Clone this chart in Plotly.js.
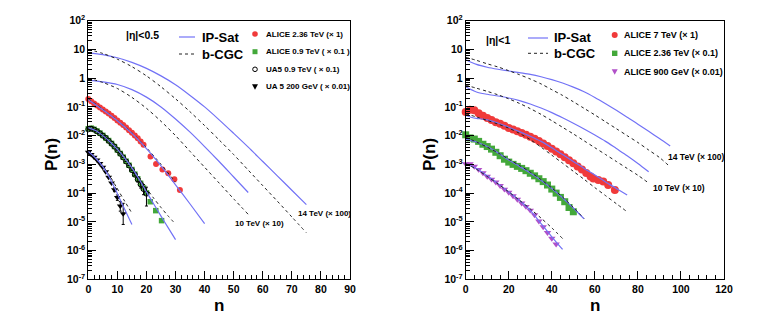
<!DOCTYPE html>
<html>
<head>
<meta charset="utf-8">
<script src="https://cdn.plot.ly/plotly-3.0.1.min.js"></script>
<style>html,body{margin:0;padding:0;background:#fff;}#chart{width:763px;height:319px;}</style>
</head>
<body>
<div id="chart"></div>
<script>
// ---------------- LEFT PANEL (|eta|<0.5) ----------------
// ALICE 2.36 TeV (x1)
const aliceL236_n = [0,1,2,3,4,5,6,7,8,9,10,11,12,13,14,15,16,17,18,19,21.4,23.3,25.5,27.5,29.6,31.5];
const aliceL236_P = [0.19,0.158,0.132,0.112,0.0955,0.0813,0.0692,0.0589,0.049,0.0407,0.0339,0.0282,0.0234,0.0191,0.0155,0.0126,0.0102,8.13e-3,6.31e-3,4.79e-3,1.86e-3,1.02e-3,6.61e-4,4.9e-4,3.02e-4,1.29e-4];
// ALICE 0.9 TeV (x0.1)
const aliceL09_n = [0,1,2,3,4,5,6,7,8,9,10,11,12,13,14,15,16,17,18,19,20,21.3,23.2,25.2];
const aliceL09_P = [0.0174,0.0182,0.0166,0.0145,0.0123,0.0102,8.32e-3,6.76e-3,5.37e-3,4.17e-3,3.16e-3,2.40e-3,1.78e-3,1.29e-3,9.33e-4,6.61e-4,4.57e-4,3.16e-4,2.19e-4,1.51e-4,1.02e-4,5.01e-5,2.45e-5,1.10e-5];
// UA5 0.9 TeV (x0.1)
const ua5L09_n = [0,1,2,3,4,5,6,7,8,9,10,11,12,13,14,15,16,17,18,19,20];
const ua5L09_P = [0.0166,0.0174,0.0162,0.0141,0.0120,0.0100,8.32e-3,6.61e-3,5.25e-3,4.17e-3,3.16e-3,2.34e-3,1.74e-3,1.26e-3,9.12e-4,6.31e-4,4.37e-4,3.02e-4,2.0e-4,1.38e-4,9.55e-5];
const ua5L09_errUp = [0,0,0,0,0,0,0,0,0,0,0,0,0,0,0,0,4e-5,6e-5,6e-5,6e-5,6.5e-5];
const ua5L09_errDn = [0,0,0,0,0,0,0,0,0,0,0,0,0,0,0,0,4e-5,6e-5,5e-5,5e-5,6e-5];
// UA5 200 GeV (x0.01)
const ua5L200_n = [0,1,2,3,4,5,6,7,8,9,10,11,12];
const ua5L200_P = [2.63e-3,2.19e-3,1.78e-3,1.41e-3,1.07e-3,7.94e-4,5.5e-4,3.55e-4,2.24e-4,1.32e-4,7.08e-5,3.55e-5,1.91e-5];
const ua5L200_errUp = [0,0,0,0,0,0,0,0,0,2e-5,1.5e-5,1.5e-5,2.5e-5];
const ua5L200_errDn = [0,0,0,0,0,0,0,0,0,2e-5,1.5e-5,1.2e-5,1.1e-5];
// theory, left
const thL14_n   = [0,5,10,15,20,25,30,35,40,45,50,55,60,65,70,75];
const ipsatL14  = [7.59,6.61,5.13,3.55,2.19,1.20,0.589,0.251,0.1,0.0355,0.0120,3.98e-3,1.26e-3,3.98e-4,1.26e-4,3.98e-5];
const bcgcL14   = [10,7.24,4.57,2.51,1.20,0.501,0.191,0.0676,0.0224,7.08e-3,2.19e-3,6.31e-4,1.82e-4,5.25e-5,1.48e-5,4.17e-6];
const thL10_n   = [0,5,10,15,20,25,30,35,40,45,50,55];
const ipsatL10  = [0.851,0.741,0.603,0.398,0.219,0.1,0.038,0.0132,4.17e-3,1.26e-3,3.63e-4,1.05e-4];
const bcgcL10   = [1.0,0.708,0.437,0.214,0.0891,0.0316,0.01,2.82e-3,7.94e-4,2.24e-4,6.31e-5,1.82e-5];
const ipsatL236_n = [0,5,10,15,20,25,30,35,40];
const ipsatL236   = [0.178,0.0794,0.0331,0.012,3.55e-3,8.91e-4,1.95e-4,4.17e-5,8.71e-6];
const bcgcL236_n  = [0,5,10,15,20,25,30];
const bcgcL236    = [0.19,0.0832,0.0339,0.0126,3.8e-3,1.0e-3,2.4e-4];
const ipsatL09_n = [0,2.5,5,7.5,10,12.5,15,17.5,20,22.5,25,27.5,30];
const ipsatL09   = [0.0191,0.0151,0.01,6.03e-3,3.31e-3,1.66e-3,7.59e-4,3.02e-4,1.10e-4,4.17e-5,1.58e-5,6.17e-6,2.40e-6];
const bcgcL09_n  = [0,5,10,15,17.5,20,22.5,25,27.5,30];
const bcgcL09    = [0.02,0.0105,3.39e-3,8.32e-4,3.55e-4,1.48e-4,6.61e-5,3.16e-5,1.58e-5,8.32e-6];
const thL200_n   = [0,2.5,5,7.5,10,12.5,15];
const ipsatL200  = [2.82e-3,1.66e-3,8.32e-4,3.16e-4,9.55e-5,2.75e-5,8.13e-6];
const bcgcL200   = [3.02e-3,1.74e-3,8.91e-4,3.80e-4,1.41e-4,5.25e-5,2.0e-5];

// ---------------- RIGHT PANEL (|eta|<1) ----------------
const aliceR7_n = [0,2,4,6,8,10,12,14,16,18,20,22,24,26,28,30,32,34,36,38,40,42,44,46,48,50,52,54,56,58,59.3,61.6,63.9,66.2,69.3];
const aliceR7_P = [0.0661,0.0794,0.0759,0.0603,0.049,0.0407,0.0347,0.0295,0.0257,0.0219,0.0186,0.0162,0.0141,0.0123,0.0107,9.12e-3,7.76e-3,6.46e-3,5.37e-3,4.37e-3,3.47e-3,2.82e-3,2.24e-3,1.78e-3,1.38e-3,1.10e-3,8.51e-4,6.61e-4,5.01e-4,3.80e-4,3.24e-4,2.88e-4,2.51e-4,1.91e-4,1.29e-4];
const aliceR236_n = [0,2,4,6,8,10,12,14,16,18,20,22,24,26,28,30,32,34,36,38,40,42,44,46,48,50];
const aliceR236_P = [0.0107,8.32e-3,7.59e-3,6.31e-3,5.01e-3,4.17e-3,3.39e-3,2.63e-3,2.0e-3,1.51e-3,1.20e-3,1.0e-3,8.51e-4,7.24e-4,6.03e-4,4.90e-4,3.98e-4,3.16e-4,2.51e-4,1.91e-4,1.38e-4,1.0e-4,7.08e-5,5.01e-5,3.16e-5,2.24e-5];
const aliceR900_n = [0,2,4,6,8,10,12,14,16,18,20,22,24,26,28,30,32,34,36,38,40,42];
const aliceR900_P = [1.05e-3,1.05e-3,8.51e-4,6.61e-4,5.01e-4,3.80e-4,3.02e-4,2.40e-4,1.82e-4,1.35e-4,1.05e-4,7.94e-5,6.03e-5,4.47e-5,3.39e-5,2.51e-5,1.74e-5,1.05e-5,6.61e-6,4.17e-6,2.63e-6,1.66e-6];
const ipsatR14_n = [0,5,10,15,20,25,30,35,40,45,50,55,60,65,70,75,80,85,90,95];
const ipsatR14   = [4.37,3.02,2.40,2.04,1.78,1.55,1.35,1.12,0.891,0.676,0.490,0.339,0.214,0.129,0.0759,0.0437,0.0251,0.0141,7.94e-3,4.37e-3];
const bcgcR14_n  = [0,5,10,15,20,25,30,35,40,45,50,55,60,65,70,75,80,85,90,94];
const bcgcR14    = [5.37,4.17,3.16,2.45,1.82,1.32,0.933,0.631,0.398,0.251,0.151,0.0891,0.0525,0.0302,0.0174,0.01,5.75e-3,3.16e-3,1.74e-3,9.55e-4];
const thR10_n    = [0,5,10,15,20,25,30,35,40,45,50,55,60,65,70,75,80,85];
const ipsatR10   = [0.501,0.331,0.275,0.240,0.204,0.166,0.126,0.0912,0.0631,0.0417,0.0269,0.0170,0.0105,6.31e-3,3.55e-3,2.0e-3,1.07e-3,5.5e-4];
const bcgcR10    = [0.575,0.447,0.347,0.263,0.191,0.132,0.0871,0.055,0.0331,0.0195,0.0115,6.61e-3,3.80e-3,2.19e-3,1.26e-3,7.24e-4,4.17e-4,2.24e-4];
const ipsatR7_n  = [0,2.5,5,7.5,10,15,20,25,30,35,40,45,50,55,60,65,70,75];
const ipsatR7    = [0.0501,0.0437,0.0398,0.0380,0.0355,0.0275,0.0195,0.0138,9.55e-3,6.31e-3,3.80e-3,2.19e-3,1.26e-3,7.24e-4,4.27e-4,2.45e-4,1.45e-4,8.51e-5];
const bcgcR7_n   = [0,5,10,15,20,25,30,35,40,45,50,55,60,65,70,75];
const bcgcR7     = [0.0575,0.0447,0.0339,0.0251,0.0182,0.012,7.24e-3,3.98e-3,2.09e-3,1.10e-3,5.75e-4,3.02e-4,1.55e-4,8.13e-5,4.27e-5,2.24e-5];
const thR236_n   = [0,5,10,15,20,25,30,35,40,45,50,55];
const ipsatR236  = [7.59e-3,6.03e-3,4.17e-3,2.51e-3,1.41e-3,8.51e-4,5.01e-4,2.82e-4,1.45e-4,6.92e-5,3.02e-5,1.26e-5];
const bcgcR236   = [8.71e-3,6.03e-3,3.98e-3,2.51e-3,1.51e-3,9.12e-4,5.37e-4,2.95e-4,1.51e-4,7.24e-5,3.16e-5,1.32e-5];
const thR900_n   = [0,5,10,15,20,25,30,35,40,45];
const ipsatR900  = [1.05e-3,7.24e-4,3.98e-4,2.14e-4,1.10e-4,5.5e-5,2.51e-5,8.71e-6,3.02e-6,1.10e-6];
const bcgcR900   = [1.07e-3,6.76e-4,3.80e-4,2.09e-4,1.10e-4,5.62e-5,2.82e-5,1.35e-5,6.17e-6,2.63e-6];

// tick labels
const yTickVals = [1e-7,1e-6,1e-5,1e-4,1e-3,1e-2,1e-1,1,10,100];
const yTickText = ['10<sup>-7</sup>','10<sup>-6</sup>','10<sup>-5</sup>','10<sup>-4</sup>','10<sup>-3</sup>','10<sup>-2</sup>','10<sup>-1</sup>','1','10','10<sup>2</sup>'];

// legend / label texts
const legLeftData  = ['ALICE 2.36 TeV (× 1)', 'ALICE 0.9 TeV ( × 0.1 )', 'UA5 0.9 TeV ( × 0.1)', 'UA 5 200 GeV ( × 0.01)'];
const legRightData = ['ALICE 7 TeV (× 1)', 'ALICE 2.36 TeV (× 0.1)', 'ALICE 900 GeV (× 0.01)'];

// ---------------- styles ----------------
const W = 763, H = 319;
const FONT = 'Liberation Sans, Arial, Helvetica, sans-serif';
const BLUE = '#7272f6', RED = '#f03a3a', GREEN = '#43a83a', PURPLE = '#b150c8';
const minorY = [];
for (let e = -7; e < 2; e++) for (let k = 2; k <= 9; k++) minorY.push(k * Math.pow(10, e));

function ipsat(x, y, xa, ya) {
  return {x: x, y: y, xaxis: xa, yaxis: ya, mode: 'lines', type: 'scatter', name: 'IP-Sat',
    line: {color: BLUE, width: 1.2, shape: 'spline', smoothing: 0.8}, hoverinfo: 'skip'};
}
function bcgc(x, y, xa, ya) {
  return {x: x, y: y, xaxis: xa, yaxis: ya, mode: 'lines', type: 'scatter', name: 'b-CGC',
    line: {color: '#222', width: 1, dash: '3px,3px', shape: 'spline', smoothing: 0.8}, hoverinfo: 'skip'};
}
function pts(x, y, xa, ya, name, marker, err) {
  const t = {x: x, y: y, xaxis: xa, yaxis: ya, mode: 'markers', type: 'scatter', name: name,
    marker: marker, cliponaxis: false, hoverinfo: 'skip'};
  if (err) t.error_y = {type: 'data', symmetric: false, array: err[0], arrayminus: err[1], color: '#000', thickness: 1, width: 1.5};
  return t;
}

const traces = [
  pts(aliceL236_n, aliceL236_P, 'x', 'y', legLeftData[0], {color: RED, size: 6, symbol: 'circle'}),
  pts(aliceL09_n, aliceL09_P, 'x', 'y', legLeftData[1], {color: GREEN, size: 5.5, symbol: 'square'}),
  pts(ua5L09_n, ua5L09_P, 'x', 'y', legLeftData[2], {color: '#000', size: 5, symbol: 'circle-open', line: {width: 1}}, [ua5L09_errUp, ua5L09_errDn]),
  pts(ua5L200_n, ua5L200_P, 'x', 'y', legLeftData[3], {color: '#000', size: 6, symbol: 'triangle-down'}, [ua5L200_errUp, ua5L200_errDn]),
  ipsat(thL14_n, ipsatL14, 'x', 'y'), bcgc(thL14_n, bcgcL14, 'x', 'y'),
  ipsat(thL10_n, ipsatL10, 'x', 'y'), bcgc(thL10_n, bcgcL10, 'x', 'y'),
  bcgc(bcgcL236_n, bcgcL236, 'x', 'y'), ipsat(ipsatL236_n, ipsatL236, 'x', 'y'),
  bcgc(bcgcL09_n, bcgcL09, 'x', 'y'), ipsat(ipsatL09_n, ipsatL09, 'x', 'y'),
  bcgc(thL200_n, bcgcL200, 'x', 'y'), ipsat(thL200_n, ipsatL200, 'x', 'y'),
  pts(aliceR7_n, aliceR7_P, 'x2', 'y2', legRightData[0], {color: RED, size: 8, symbol: 'circle'}),
  pts(aliceR236_n, aliceR236_P, 'x2', 'y2', legRightData[1], {color: GREEN, size: 7, symbol: 'square'}),
  pts(aliceR900_n, aliceR900_P, 'x2', 'y2', legRightData[2], {color: PURPLE, size: 6.5, symbol: 'triangle-down'}),
  ipsat(ipsatR14_n, ipsatR14, 'x2', 'y2'), bcgc(bcgcR14_n, bcgcR14, 'x2', 'y2'),
  ipsat(thR10_n, ipsatR10, 'x2', 'y2'), bcgc(thR10_n, bcgcR10, 'x2', 'y2'),
  ipsat(ipsatR7_n, ipsatR7, 'x2', 'y2'), bcgc(bcgcR7_n, bcgcR7, 'x2', 'y2'),
  ipsat(thR236_n, ipsatR236, 'x2', 'y2'), bcgc(thR236_n, bcgcR236, 'x2', 'y2'),
  ipsat(thR900_n, ipsatR900, 'x2', 'y2'), bcgc(thR900_n, bcgcR900, 'x2', 'y2')
];

const tickFont = {family: FONT, size: 10.5, color: '#000', weight: 'bold'};
function xax(dom, rng, dt, mdt, anchor) {
  return {domain: dom, range: rng, dtick: dt, tick0: 0, anchor: anchor, ticks: 'inside', ticklen: 8, tickwidth: 1, tickcolor: '#000',
    showline: true, linecolor: '#000', linewidth: 1, mirror: true, showgrid: false, zeroline: false,
    tickfont: tickFont, fixedrange: true,
    minor: {ticks: 'inside', ticklen: 4, tickwidth: 1, tickcolor: '#000', dtick: mdt, tick0: 0, showgrid: false}};
}
function yax(anchor) {
  return {domain: [1 - 279.3 / H, 1 - 20.7 / H], type: 'log', range: [-7, 2], anchor: anchor,
    tickmode: 'array', tickvals: yTickVals, ticktext: yTickText, ticks: 'inside', ticklen: 8, tickwidth: 1, tickcolor: '#000',
    showline: true, linecolor: '#000', linewidth: 1, mirror: true, showgrid: false, zeroline: false,
    tickfont: tickFont, fixedrange: true,
    minor: {tickmode: 'array', tickvals: minorY, ticks: 'inside', ticklen: 4, tickwidth: 1, tickcolor: '#000', showgrid: false}};
}

function lbl(text, x, y, size, opts) {
  return Object.assign({text: text, x: x / W, y: 1 - y / H, xref: 'paper', yref: 'paper', showarrow: false,
    xanchor: 'left', yanchor: 'middle', font: {family: FONT, size: size, color: '#000', weight: 'bold'}}, opts || {});
}
// legend key shapes, positioned in page pixels (converted to paper fractions)
function hline(x0, x1, y, line) {
  return {type: 'line', xref: 'paper', yref: 'paper', x0: x0 / W, x1: x1 / W, y0: 1 - y / H, y1: 1 - y / H, line: line};
}
function box(type, cx, cy, r, fill, line) {
  return {type: type, xref: 'paper', yref: 'paper', x0: (cx - r) / W, x1: (cx + r) / W, y0: 1 - (cy + r) / H, y1: 1 - (cy - r) / H,
    fillcolor: fill, line: line};
}
function tri(cx, cy, r, fill) {
  const p = (x, y) => (x / W) + ',' + (1 - y / H);
  return {type: 'path', xref: 'paper', yref: 'paper', fillcolor: fill, line: {width: 0},
    path: 'M' + p(cx - r, cy - r * 0.8) + 'L' + p(cx + r, cy - r * 0.8) + 'L' + p(cx, cy + r) + 'Z'};
}
const ipLine = {color: BLUE, width: 1.2};
const bcLine = {color: '#222', width: 1, dash: '3px,3px'};
const noLine = {width: 0};

const layout = {
  width: W, height: H, margin: {l: 0, r: 0, t: 0, b: 0}, showlegend: false,
  paper_bgcolor: '#fff', plot_bgcolor: '#fff',
  xaxis: xax([88.3 / W, 350 / W], [0, 90], 10, 2, 'y'),
  yaxis: yax('x'),
  xaxis2: xax([465.7 / W, 724 / W], [0, 120], 20, 4, 'y2'),
  yaxis2: yax('x2'),
  shapes: [
    hline(179, 195, 37, ipLine), hline(179, 195, 54, bcLine),
    box('circle', 255, 34, 2.8, RED, noLine),
    box('rect', 255, 51.7, 2.5, GREEN, noLine),
    box('circle', 255, 69.3, 2.3, 'rgba(0,0,0,0)', {color: '#000', width: 1}),
    tri(255, 86.7, 3, '#000'),
    hline(528, 548, 38, ipLine), hline(528, 548, 53.3, bcLine),
    box('circle', 614.7, 35, 3, RED, noLine),
    box('rect', 614.7, 53.3, 2.7, GREEN, noLine),
    tri(614.7, 71.7, 3, PURPLE)
  ],
  annotations: [
    lbl('|η|<0.5', 124, 35, 10.5),
    lbl('IP-Sat', 200, 37, 13), lbl('b-CGC', 200, 54, 13),
    lbl(legLeftData[0], 264, 34, 8), lbl(legLeftData[1], 264, 51.7, 8),
    lbl(legLeftData[2], 264, 69.3, 8), lbl(legLeftData[3], 264, 86.7, 8),
    lbl('|η|<1', 484, 40, 10.5),
    lbl('IP-Sat', 552, 38, 13), lbl('b-CGC', 552, 53.3, 13),
    lbl(legRightData[0], 622, 35, 9), lbl(legRightData[1], 622, 53.3, 9), lbl(legRightData[2], 622, 71.7, 9),
    lbl('14 TeV (× 100)', 296, 213, 8),
    lbl('10 TeV (× 10)', 233, 223, 8),
    lbl('14 TeV (× 100)', 666, 157, 8.5),
    lbl('10 TeV (× 10)', 651, 188, 8.5),
    lbl('P(n)', 51, 155, 17, {xanchor: 'center', textangle: -90}),
    lbl('P(n)', 429, 155, 17, {xanchor: 'center', textangle: -90}),
    lbl('n', 219, 305, 17, {xanchor: 'center'}),
    lbl('n', 595, 305, 17, {xanchor: 'center'})
  ]
};

Plotly.newPlot('chart', traces, layout, {staticPlot: true, displayModeBar: false});
</script>
</body>
</html>
